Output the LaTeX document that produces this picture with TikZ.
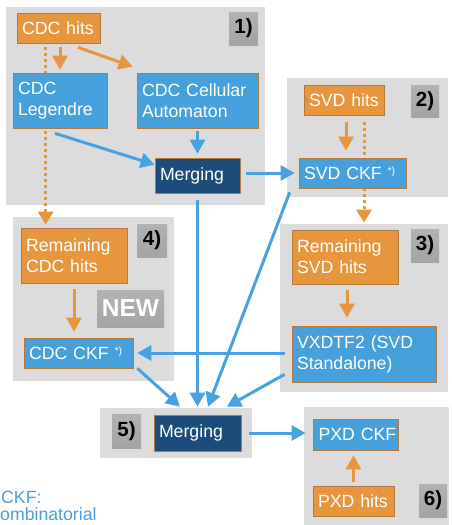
\documentclass[tikz,border=0pt]{standalone}
\usepackage{fontspec}
\setmainfont{Liberation Sans}
\usetikzlibrary{arrows.meta,calc}
\definecolor{pnl}{HTML}{DCDCDC}
\definecolor{orng}{HTML}{E8963E}
\definecolor{lblue}{HTML}{46A0DC}
\definecolor{dblue}{HTML}{1E4C7A}
\definecolor{bord}{HTML}{B07A40}
\definecolor{arrb}{HTML}{48A2DF}
\definecolor{labT}{HTML}{B2B2B2}
\definecolor{labB}{HTML}{A4A4A4}
\definecolor{tblue}{HTML}{4A9FDA}
\pgfdeclarelayer{bg}
\pgfdeclarelayer{arr}
\pgfsetlayers{bg,arr,main}
\begin{document}
\begin{tikzpicture}[x=1pt,y=-1pt,
  bx/.style={draw=bord, line width=0.7pt, inner xsep=5pt, inner ysep=0pt, text=white, align=left,
    font=\fontsize{17.7pt}{21pt}\selectfont},
  ob/.style={bx, fill=orng},
  bb/.style={bx, fill=lblue},
  db/.style={bx, fill=dblue},
  lab/.style={top color=labT, bottom color=labB, draw=none, inner sep=0pt, text=black,
    font=\bfseries\fontsize{20.5pt}{20.5pt}\selectfont},
  barr/.style={draw=arrb, line width=3pt, -{Triangle[length=14pt,width=15pt]}},
  oarr/.style={draw=orng, line width=3pt, -{Triangle[length=14pt,width=15pt]}},
  odot/.style={draw=orng, line width=3pt, dash pattern=on 3pt off 3pt, -{Triangle[length=13pt,width=15pt]}},
  foot/.style={anchor=base west, inner sep=0pt, text=tblue, font=\fontsize{17.7pt}{21pt}\selectfont}
]
\useasboundingbox (0,0) rectangle (452,525);
\clip (0,0) rectangle (452,525);
\newcommand{\starp}{\raisebox{0.55ex}{\fontsize{10.5pt}{10.5pt}\selectfont *)}}

% panels
\begin{pgfonlayer}{bg}
\fill[pnl] (6,7) rectangle (265,205);
\fill[pnl] (287,78) rectangle (448,197);
\fill[pnl] (280,224) rectangle (448,392);
\fill[pnl] (13,217) rectangle (174,381);
\fill[pnl] (100,408) rectangle (252,458);
\fill[pnl] (304,407) rectangle (449,530);
\end{pgfonlayer}

% boxes
\node[ob, minimum width=83pt, minimum height=30pt, text width=73pt] (hits) at (58.5,28) {CDC hits};
\node[bb, minimum width=94pt, minimum height=55pt, text width=84pt] (leg) at (60,100.5) {CDC\\Legendre};
\node[bb, minimum width=121pt, minimum height=55pt, text width=111pt] (cell) at (197.5,100.5) {CDC Cellular\\Automaton};
\node[db, minimum width=85pt, minimum height=35pt, text width=75pt] (m1) at (197.5,175.5) {Merging};
\node[ob, minimum width=80pt, minimum height=30pt, text width=70pt] (svdhits) at (344,100) {SVD hits};
\node[bb, minimum width=107pt, minimum height=30pt, text width=97pt] (svdckf) at (352.5,173) {SVD CKF \starp};
\node[ob, minimum width=106pt, minimum height=54pt, text width=96pt] (remsvd) at (345,257) {Remaining\\SVD hits};
\node[bb, minimum width=144pt, minimum height=56pt, text width=134pt] (vxd) at (364,354) {VXDTF2 (SVD\\Standalone)};
\node[ob, minimum width=106pt, minimum height=55pt, text width=96pt] (remcdc) at (74,255.5) {Remaining\\CDC hits};
\node[bb, minimum width=109pt, minimum height=30pt, text width=99pt] (cdcckf) at (78.5,353) {CDC CKF \starp};
\node[db, minimum width=87pt, minimum height=36pt, text width=77pt] (m5) at (197.5,433) {Merging};
\node[bb, minimum width=85pt, minimum height=31pt, inner xsep=1.5pt, text width=82pt] (pxdckf) at (355.5,434.5) {\hspace*{4pt}PXD CKF};
\node[ob, minimum width=81pt, minimum height=30pt, text width=71pt] (pxdhits) at (353.5,501) {PXD hits};

% labels
\node[lab, minimum width=29pt, minimum height=33pt] (l1) at (243.5,28.5) {1)};
\node[lab, minimum width=28pt, minimum height=32pt] (l2) at (425,101) {2)};
\node[lab, minimum width=28pt, minimum height=33pt] (l3) at (425,245.5) {3)};
\node[lab, minimum width=30pt, minimum height=33pt] (l4) at (152,240.5) {4)};
\node[lab, minimum width=29pt, minimum height=34pt] (l5) at (126.5,431) {5)};
\node[lab, minimum width=28pt, minimum height=33pt] (l6) at (433,500.5) {6)};
\node[lab, minimum width=67pt, minimum height=37pt, text=white,
  font=\bfseries\fontsize{24.5pt}{24.5pt}\selectfont] (new) at (130.5,308.5) {NEW};

% footnote
\node[foot] (fn1) at (1,503) {CKF:};
\node[foot] (fn2) at (-12.8,520) {Combinatorial};

% connectors
\begin{pgfonlayer}{arr}
% orange
\draw[oarr, shorten <=4pt, shorten >=3pt] (hits.south -| leg.north) -- (leg.north);
\draw[oarr] ([xshift=19.5pt,yshift=-4pt]hits.south) -- ([xshift=-4pt,yshift=6pt]cell.north west);
\draw[odot, shorten <=4pt, shorten >=3pt] ([xshift=29pt]hits.south west) -- ([xshift=25pt]remcdc.north west);
\draw[oarr, shorten <=6pt, shorten >=6pt] (remcdc.south) -- (remcdc.south |- cdcckf.north);
\draw[oarr, shorten <=7pt, shorten >=7pt] ([xshift=2pt]svdhits.south) -- ([xshift=2pt]svdhits.south |- svdckf.north);
\draw[odot, shorten <=7pt, shorten >=7pt] ([xshift=20pt]svdhits.south) -- ([xshift=20pt]svdhits.south |- remsvd.north);
\draw[oarr, shorten <=6pt, shorten >=8pt] ([xshift=2pt]remsvd.south) -- ([xshift=2pt]remsvd.south |- vxd.north);
\draw[oarr, shorten <=4pt, shorten >=5pt] (pxdhits.north) -- (pxdhits.north |- pxdckf.south);
% blue
\draw[barr] ([xshift=-5pt,yshift=-5pt]leg.south) -- ([yshift=-7pt]m1.north west);
\draw[barr, shorten <=3pt, shorten >=4pt] (cell.south) -- (m1.north);
\draw[barr, shorten <=6pt, shorten >=4pt] (m1.east |- svdckf.west) -- (svdckf.west);
\draw[barr, shorten <=7pt, shorten >=8pt] (m1.south) -- (m5.north);
\draw[barr] ([xshift=-9pt,yshift=-4pt]svdckf.south west) -- ([xshift=10.5pt,yshift=8pt]m5.north);
\draw[barr, shorten <=7pt, shorten >=4pt] (cdcckf.east -| vxd.west) -- (cdcckf.east);
\draw[barr] ([xshift=-7pt,yshift=8pt]vxd.south west) -- ([xshift=29.5pt,yshift=8pt]m5.north);
\draw[barr] ([xshift=4pt]cdcckf.south east) -- ([xshift=-17.5pt,yshift=8pt]m5.north);
\draw[barr, shorten <=8pt, shorten >=7pt] (m5.east) -- (m5.east -| pxdckf.west);
\end{pgfonlayer}
\end{tikzpicture}
\end{document}
